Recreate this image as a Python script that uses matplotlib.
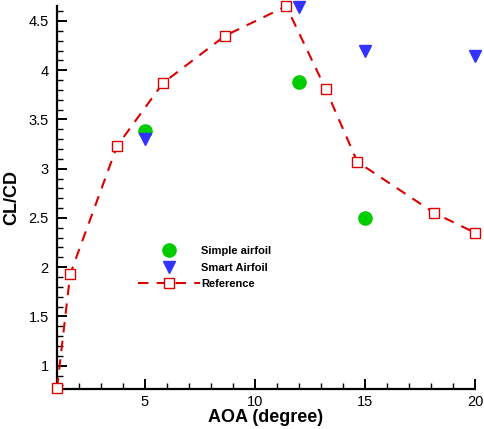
import numpy as np
import matplotlib.pyplot as plt
from matplotlib.ticker import MultipleLocator, FormatStrFormatter

plt.rcParams['font.family'] = ['Liberation Sans', 'DejaVu Sans']

# reference CL/CD curve
ref_aoa = [1.0, 1.6, 3.73, 5.82, 8.64, 11.42, 13.21, 14.65, 18.15, 20.0]
ref_clcd = [0.77, 1.93, 3.23, 3.87, 4.35, 4.65, 3.81, 3.07, 2.55, 2.35]

# simple airfoil results
simple_aoa = [5, 12, 15]
simple_clcd = [3.385, 3.88, 2.50]

# smart airfoil results
smart_aoa = [5, 12, 15, 20]
smart_clcd = [3.30, 4.64, 4.20, 4.14]

fig = plt.figure(figsize=(4.84, 4.29), dpi=100)
ax = fig.add_axes([57/484, 40/429, (475-57)/484, (389-6)/429])

ax.plot(simple_aoa, simple_clcd, 'o', color='#00cc00', markersize=9.5,
        linestyle='none', label='Simple airfoil', clip_on=False, zorder=3)
ax.plot(smart_aoa, smart_clcd, 'v', color='#3333ff', markersize=8,
        linestyle='none', label='Smart Airfoil', clip_on=False, zorder=3)
ax.plot(ref_aoa, ref_clcd, color='#dd0000', linestyle=(0, (5, 4)), linewidth=1.5,
        marker='s', markersize=7.5, markerfacecolor='white', markeredgecolor='#dd0000',
        markeredgewidth=1.0, label='Reference', clip_on=False, zorder=4)

ax.set_xlim(1, 20)
ax.set_ylim(0.763, 4.652)

ax.xaxis.set_major_locator(MultipleLocator(5))
ax.xaxis.set_minor_locator(MultipleLocator(1))
ax.yaxis.set_major_locator(MultipleLocator(0.5))
ax.yaxis.set_minor_locator(MultipleLocator(0.1))
ax.yaxis.set_major_formatter(FormatStrFormatter('%g'))

for side in ['top', 'right']:
    ax.spines[side].set_visible(False)
for side in ['left', 'bottom']:
    ax.spines[side].set_linewidth(1.6)

ax.tick_params(which='major', direction='in', length=7, width=1.4, labelsize=10.5)
ax.tick_params(axis='y', which='major', pad=6)
ax.tick_params(axis='x', which='major', pad=4)
ax.tick_params(which='minor', direction='in', length=4, width=1.0)

ax.set_xlabel('AOA (degree)', fontsize=13, fontweight='bold', labelpad=0)
ax.set_ylabel('CL/CD', fontsize=13, fontweight='bold', labelpad=6)

leg = ax.legend(loc='upper left', bbox_to_anchor=(138/484, 1 - 246/429),
                bbox_transform=fig.transFigure, frameon=False, numpoints=1,
                prop={'weight': 'bold', 'size': 8}, handlelength=5.6,
                handletextpad=0.1, labelspacing=0.6, borderpad=0, borderaxespad=0)

fig.savefig('out.png', dpi=100)
